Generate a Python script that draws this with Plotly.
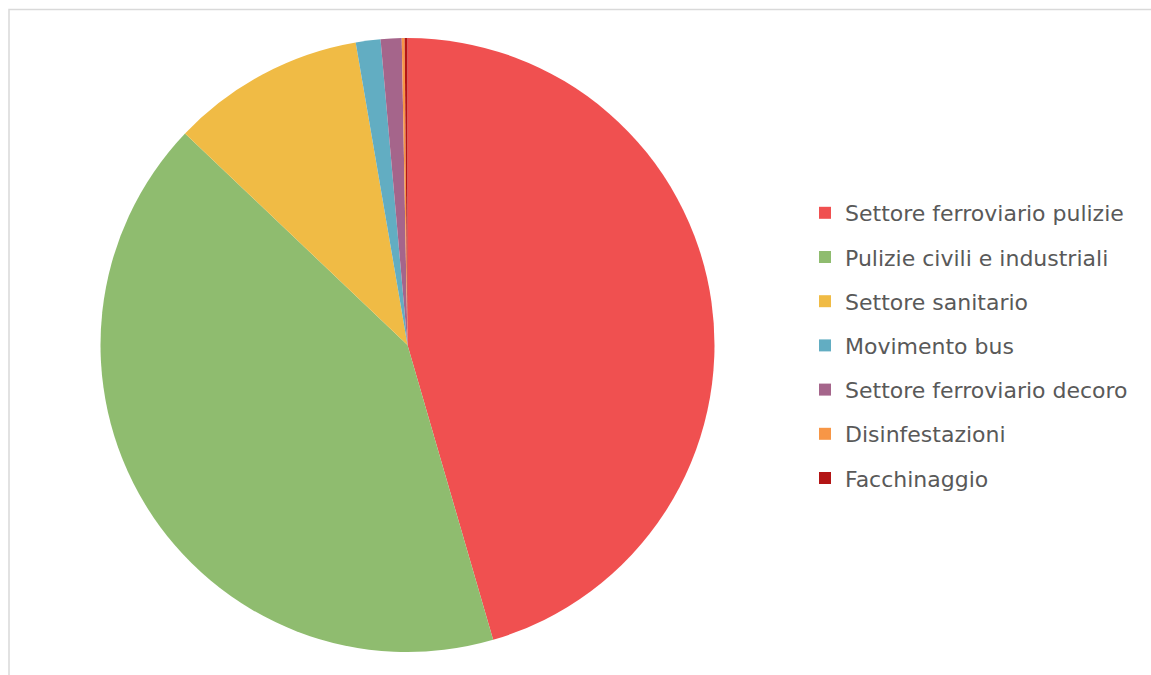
import plotly.graph_objects as go

categories = [
    "Settore ferroviario pulizie",
    "Pulizie civili e industriali",
    "Settore sanitario",
    "Movimento bus",
    "Settore ferroviario decoro",
    "Disinfestazioni",
    "Facchinaggio",
]
values = [45.5, 41.6, 10.2, 1.3, 1.1, 0.15, 0.15]
colors = ["#F05050", "#8FBC6F", "#F0BB45", "#62ADC2", "#A5658B", "#F79646", "#B31515"]

W, H = 1151, 675

fig = go.Figure()
fig.add_trace(go.Pie(
    labels=categories,
    values=values,
    sort=False,
    direction="clockwise",
    rotation=0,
    textinfo="none",
    hoverinfo="label+percent",
    marker=dict(colors=colors, line=dict(width=0)),
    domain=dict(x=[100 / W, 715 / W], y=[23 / H, 637 / H]),
    showlegend=False,
))

# legend entries (one per category, each in its own group for spacing)
for cat, col in zip(categories, colors):
    fig.add_trace(go.Scatter(
        x=[None], y=[None], mode="markers", name=cat,
        legendgroup=cat,
        marker=dict(symbol="square", size=12, color=col, line=dict(width=0)),
        hoverinfo="skip",
    ))

fig.update_layout(
    width=W, height=H,
    margin=dict(l=0, r=0, t=0, b=0),
    paper_bgcolor="white", plot_bgcolor="white",
    xaxis=dict(visible=False), yaxis=dict(visible=False),
    font=dict(family="DejaVu Sans", color="#595959"),
    legend=dict(
        x=(825 - 20) / W, xanchor="left",
        y=(H - 192) / H, yanchor="top",
        font=dict(family="DejaVu Sans", size=22, color="#595959"),
        tracegroupgap=12.6,
        bgcolor="rgba(0,0,0,0)",
        itemclick=False, itemdoubleclick=False,
    ),
    shapes=[dict(
        type="rect", xref="paper", yref="paper",
        x0=9 / W, x1=1.02, y0=-0.02, y1=(H - 9.5) / H,
        line=dict(color="#D9D9D9", width=1.5), fillcolor="rgba(0,0,0,0)",
        layer="below",
    )],
)

fig.write_html("out.html")
